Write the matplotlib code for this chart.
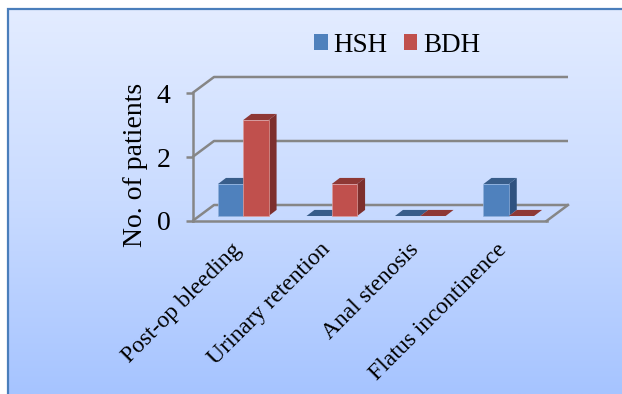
import numpy as np
import matplotlib
matplotlib.use("Agg")
import matplotlib.pyplot as plt
from matplotlib.patches import Polygon, Rectangle
from matplotlib.colors import LinearSegmentedColormap
from matplotlib.transforms import ScaledTranslation

categories = ["Post-op bleeding", "Urinary retention", "Anal stenosis", "Flatus incontinence"]
hsh_values = [1, 0, 0, 1]
bdh_values = [3, 1, 0, 0]
y_ticks = [0, 2, 4]
series_names = ["HSH", "BDH"]

BLUE = ("#4F81BD", "#385D8A", "#2F5280")
RED = ("#C0504D", "#8E3835", "#7D2F2D")
GRID = "#868686"

plt.rcParams["font.family"] = ["Liberation Serif", "DejaVu Serif"]

W, H = 622, 394
fig = plt.figure(figsize=(W / 100, H / 100), dpi=100)

# Vertical gradient panel with a blue frame on the top and left
bg = fig.add_axes([0, 0, 1, 1], zorder=0)
bg.set_xlim(0, W)
bg.set_ylim(H, 0)
bg.axis("off")
cmap = LinearSegmentedColormap.from_list("panel", ["#E3ECFF", "#C9DBFF", "#A6C4FF"])
bg.imshow(np.linspace(0, 1, 256)[:, None], cmap=cmap, aspect="auto", extent=(8, W, H, 9))
bg.plot([8, 8, W], [H, 9, 9], color="#4A7EBB", lw=1.6, solid_joinstyle="miter")

# Plot axes: the front plane of the oblique box
ax = fig.add_axes([192.5 / W, (H - 221) / H, 354 / W, 128 / H], zorder=1)
ax.patch.set_visible(False)
ax.set_xlim(0, 4)
ax.set_ylim(0, 4)
for side in ("top", "right"):
    ax.spines[side].set_visible(False)
for side in ("left", "bottom"):
    ax.spines[side].set_color(GRID)
    ax.spines[side].set_linewidth(1.8)

# Oblique projection offsets, in data units
wall_dx, wall_dy = 0.243, 0.5
bar_dx, bar_dy = 0.09, 0.19
floor_dy = 0.156
bar_w = 0.286
bar_start = 0.288

# Walls and floor outline
for v in y_ticks:
    ax.plot([0, wall_dx, 4 + wall_dx], [v, v + wall_dy, v + wall_dy],
            color=GRID, lw=1.8, clip_on=False, zorder=1, solid_capstyle="butt")
ax.plot([4, 4 + wall_dx], [0, wall_dy], color=GRID, lw=1.8, clip_on=False, zorder=1)


def draw_bar(x0, value, colors):
    front, top, side = colors
    x1 = x0 + bar_w
    y0 = floor_dy
    y1 = y0 + value
    kw = dict(clip_on=False, zorder=3, edgecolor="none")
    ax.add_patch(Polygon([(x0, y1), (x1, y1), (x1 + bar_dx, y1 + bar_dy), (x0 + bar_dx, y1 + bar_dy)],
                         facecolor=top, **kw))
    if value > 0:
        ax.add_patch(Polygon([(x1, y0), (x1 + bar_dx, y0 + bar_dy), (x1 + bar_dx, y1 + bar_dy), (x1, y1)],
                             facecolor=side, **kw))
        ax.add_patch(Rectangle((x0, y0), bar_w, value, facecolor=front, clip_on=False, zorder=3,
                               edgecolor="#8FB0DC" if colors is BLUE else "#DC9C9A", linewidth=0.5))


for i, (a, b) in enumerate(zip(hsh_values, bdh_values)):
    draw_bar(i + bar_start, a, BLUE)
    draw_bar(i + bar_start + bar_w, b, RED)

# Axis ticks and labels
ax.set_yticks(y_ticks)
ax.set_yticklabels([str(v) for v in y_ticks], fontsize=20)
ax.tick_params(axis="y", color=GRID, width=1.8, length=5, pad=11)
ax.set_xticks(np.arange(4) + 0.5)
ax.set_xticklabels(categories, rotation=45, ha="right", rotation_mode="anchor", fontsize=17)
ax.tick_params(axis="x", length=0, pad=13)
shift = ScaledTranslation(-6 / 100, 0, fig.dpi_scale_trans)
for lab in ax.get_xticklabels():
    lab.set_transform(lab.get_transform() + shift)
ax.set_ylabel("No. of patients", fontsize=20)
ax.yaxis.set_label_coords(-0.126, 0.438, transform=ax.transAxes)

# Legend keys and labels
handles = [Rectangle((0, 0), 1, 1, facecolor=BLUE[0]), Rectangle((0, 0), 1, 1, facecolor=RED[0])]
fig.legend(handles, series_names, loc="center", bbox_to_anchor=(397 / W, 1 - 45 / H), ncol=2,
           frameon=False, fontsize=19.5, handlelength=0.5, handleheight=0.5,
           handletextpad=0.2, columnspacing=0.62)

fig.savefig("out.png", dpi=100)
